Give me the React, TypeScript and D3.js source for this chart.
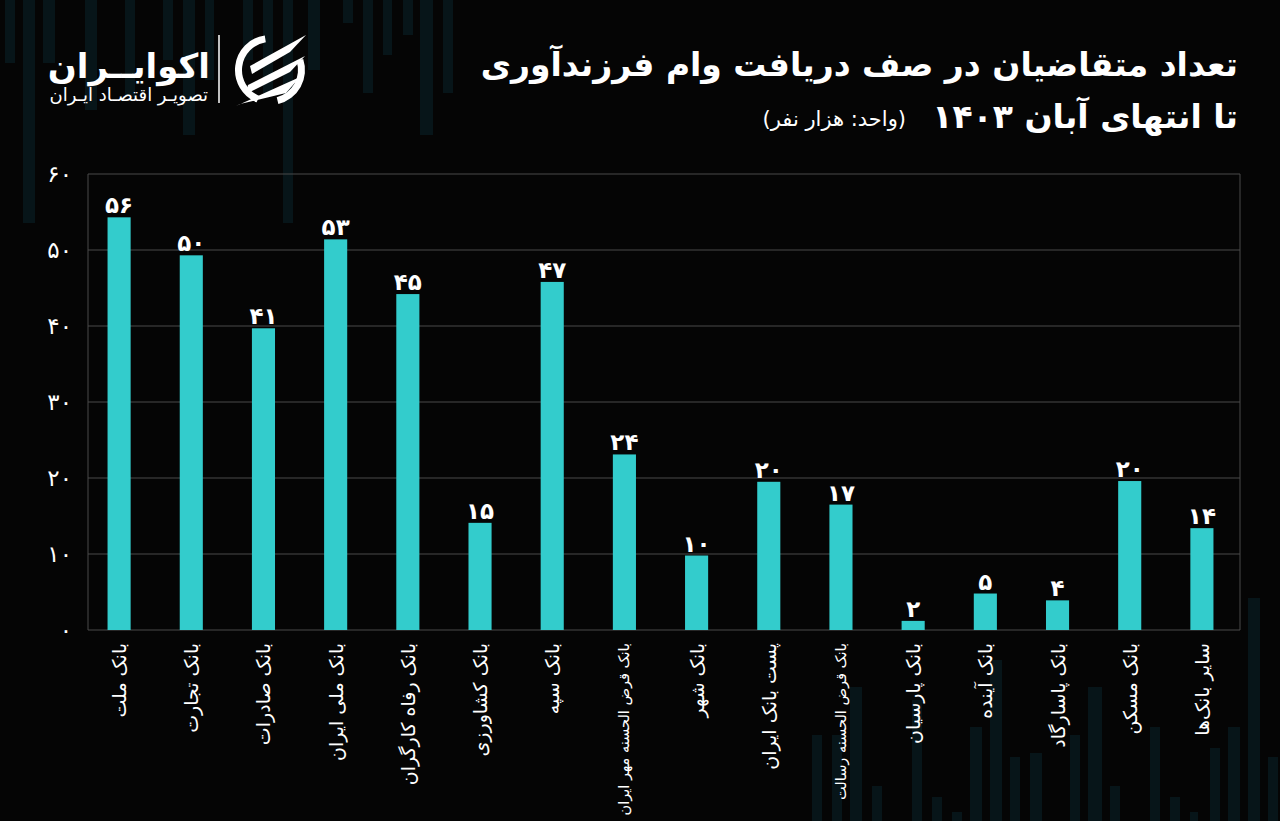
import React from "react";
import * as d3 from "d3";

// ---- Data ----
const categories: string[] = [
  "بانک ملت",
  "بانک تجارت",
  "بانک صادرات",
  "بانک ملی ایران",
  "بانک رفاه کارگران",
  "بانک کشاورزی",
  "بانک سپه",
  "بانک قرض الحسنه مهر ایران",
  "بانک شهر",
  "پست بانک ایران",
  "بانک قرض الحسنه رسالت",
  "بانک پارسیان",
  "بانک آینده",
  "بانک پاسارگاد",
  "بانک مسکن",
  "سایر بانک‌ها",
];
const barValues: number[] = [54.3, 49.3, 39.7, 51.4, 44.2, 14.1, 45.8, 23.1, 9.8, 19.5, 16.5, 1.2, 4.8, 3.9, 19.6, 13.4];
const valueLabels: number[] = [56, 50, 41, 53, 45, 15, 47, 24, 10, 20, 17, 2, 5, 4, 20, 14];
const yTicks: number[] = [0, 10, 20, 30, 40, 50, 60];

const titleLine1 = "تعداد متقاضیان در صف دریافت وام فرزندآوری";
const titleLine2 = "تا انتهای آبان ۱۴۰۳";
const unitText = "(واحد: هزار نفر)";
const brandName = "اکوایــران";
const brandSub = "تصویـر اقتصـاد ایـران";

// decorative background stripes: [x, width, extent]
const topDeco: number[][] = [
  [5, 10, 63], [23, 12, 223], [43, 12, 63], [85, 12, 110], [125, 10, 97], [163, 10, 60],
  [183, 12, 135], [205, 9, 80], [243, 10, 60], [263, 10, 93], [283, 10, 223], [308, 12, 70],
  [343, 10, 23], [363, 10, 93], [383, 9, 55], [403, 10, 35], [420, 13, 135], [443, 10, 93],
];
const bottomDeco: number[][] = [
  [812, 10, 735], [832, 10, 735], [850, 12, 687], [872, 10, 786], [912, 10, 700], [932, 10, 797],
  [952, 10, 812], [970, 12, 727], [990, 12, 660], [1010, 10, 757], [1030, 12, 753], [1070, 10, 735],
  [1088, 14, 687], [1110, 10, 786], [1150, 10, 727], [1170, 10, 797], [1190, 8, 812], [1210, 10, 748],
  [1228, 12, 727], [1248, 12, 598], [1268, 10, 757],
];

const toFa = (n: number | string) => String(n).replace(/\d/g, (d) => "۰۱۲۳۴۵۶۷۸۹"[+d]);

const W = 1280;
const H = 821;
const plotLeft = 88;
const plotRight = 1240;
const plotTop = 174;
const plotBottom = 630;
const FONT = "'DejaVu Sans', 'Noto Sans', sans-serif";
const BAR = "#33cccc";
const GRID = "#4a4a4a";
const DECO = "#071519";

export default function App() {
  const x = d3.scaleBand<string>().domain(categories).range([83, 1238]).paddingInner(0.68).paddingOuter(0.34);
  const y = d3.scaleLinear().domain([0, 60]).range([plotBottom, plotTop]);

  const arc = d3.arc();
  const cx = 270, cy = 70;
  const ringL = arc({ innerRadius: 28, outerRadius: 35, startAngle: -2.75, endAngle: -0.15 } as any) || "";
  const ringR = arc({ innerRadius: 28, outerRadius: 35, startAngle: 1.25, endAngle: 2.9 } as any) || "";
  const stripes = [
    "M 250 66 L 306 35 L 290 52 L 252 74 Z",
    "M 248 85 L 305 56 L 290 72 L 246 94 Z",
    "M 236 106 L 300 77 L 286 93 L 240 104 Z",
  ];

  return (
    <div style={{ position: "fixed", left: 0, top: 0, width: W, height: H, background: "#050505" }}>
      <svg width={W} height={H} style={{ display: "block" }}>
        <rect x={0} y={0} width={W} height={H} fill="#050505" />
        {topDeco.map((d, i) => (
          <rect key={"t" + i} x={d[0]} y={0} width={d[1]} height={d[2]} fill={DECO} />
        ))}
        {bottomDeco.map((d, i) => (
          <rect key={"b" + i} x={d[0]} y={d[2]} width={d[1]} height={H - d[2]} fill={DECO} />
        ))}

        {/* logo */}
        <g fill="#ffffff">
          <path d={ringL} transform={`translate(${cx},${cy})`} />
          <path d={ringR} transform={`translate(${cx},${cy})`} />
          {stripes.map((p, i) => (
            <path key={i} d={p} />
          ))}
        </g>
        <line x1={219} x2={219} y1={35} y2={103} stroke="#ffffff" strokeWidth={1.5} />
        <text x={210} y={78} direction="rtl" textAnchor="start" fill="#fff" fontFamily={FONT} fontWeight="bold" fontSize={34}>
          {brandName}
        </text>
        <text x={208} y={101} direction="rtl" textAnchor="start" fill="#fff" fontFamily={FONT} fontSize={18}>
          {brandSub}
        </text>

        {/* titles */}
        <text x={1238} y={76} direction="rtl" textAnchor="start" fill="#fff" fontFamily={FONT} fontWeight="bold" fontSize={33}>
          {titleLine1}
        </text>
        <text x={1238} y={128} direction="rtl" textAnchor="start" fill="#fff" fontFamily={FONT} fontWeight="bold" fontSize={33}>
          {titleLine2}
        </text>
        <text x={906} y={126} direction="rtl" textAnchor="start" fill="#fff" fontFamily={FONT} fontSize={21}>
          {unitText}
        </text>

        {/* grid */}
        {yTicks.map((t) => (
          <line key={"g" + t} x1={plotLeft} x2={plotRight} y1={y(t)} y2={y(t)} stroke={GRID} strokeWidth={1} />
        ))}
        <line x1={plotLeft} x2={plotLeft} y1={plotTop} y2={plotBottom} stroke={GRID} strokeWidth={1} />
        <line x1={plotRight} x2={plotRight} y1={plotTop} y2={plotBottom} stroke={GRID} strokeWidth={1} />
        {yTicks.map((t) => (
          <text
            key={"yt" + t}
            x={72}
            y={y(t)}
            textAnchor="end"
            dominantBaseline="central"
            fill="#fff"
            fontFamily={FONT}
            fontSize={23}
          >
            {toFa(t)}
          </text>
        ))}

        {/* bars */}
        {categories.map((c, i) => (
          <rect key={"bar" + i} x={x(c)} y={y(barValues[i])} width={x.bandwidth()} height={plotBottom - y(barValues[i])} fill={BAR} />
        ))}
        {categories.map((c, i) => (
          <text
            key={"vl" + i}
            x={(x(c) as number) + x.bandwidth() / 2}
            y={y(barValues[i]) - 4}
            textAnchor="middle"
            fill="#fff"
            fontFamily={FONT}
            fontWeight="bold"
            fontSize={23}
          >
            {toFa(valueLabels[i])}
          </text>
        ))}

        {/* x labels */}
        {categories.map((c, i) => {
          const cxl = (x(c) as number) + x.bandwidth() / 2;
          const small = c.length > 18;
          return (
            <text
              key={"xl" + i}
              transform={`translate(${cxl},643) rotate(-90)`}
              direction="rtl"
              textAnchor="start"
              dominantBaseline="central"
              fill="#fff"
              fontFamily={FONT}
              fontSize={small ? 14.5 : 19}
            >
              {c}
            </text>
          );
        })}
      </svg>
    </div>
  );
}
